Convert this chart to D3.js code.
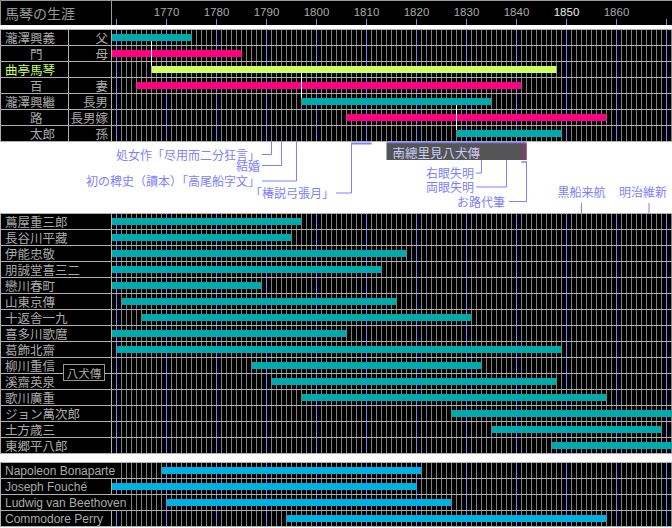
<!DOCTYPE html>
<html><head><meta charset="utf-8">
<script src="https://cdn.jsdelivr.net/npm/d3@7"></script>
<style>body{margin:0;background:#fff}svg{display:block}</style>
</head><body><svg id="c" width="672" height="528"></svg>
<script>
// ---------- data ----------
const chartTitle = "馬琴の生涯";
const yearTicks = [1770,1780,1790,1800,1810,1820,1830,1840,1850,1860];
const decadeLines = [1760,1770,1780,1790,1800,1810,1820,1830,1840,1850,1860,1870];

const familyNames = ["瀧澤興義","\u3000\u3000門","曲亭馬琴","\u3000\u3000百","瀧澤興繼","\u3000\u3000路","\u3000\u3000太郎"];
const familyRelations = ["父","母","","妻","長男","長男嫁","孫"];
const familyBirth = [1723,1737,1767,1764,1797,1806,1828];
const familyDeath = [1775,1785,1848,1841,1835,1858,1849];
const familyKind = ["male","female","self","female","male","female","male"];
const birthLinkParent = [0,2,4];
const birthLinkChild = [2,4,6];
const birthLinkYear = [1767,1797,1828];

const eventNames = ["処女作「尽用而二分狂言」","結婚","初の稗史（讀本）「高尾船字文」","「椿説弓張月」","右眼失明","両眼失明","お路代筆","黒船来航","明治維新"];
const eventYear = [1791,1793,1796,1807,1833,1838,1842,1853,1866.5];
const eventEndYear = [null,null,null,1811,null,null,1841,null,null];
const workName = "南總里見八犬傳";
const workStart = 1814, workEnd = 1842, proxyStart = 1841;

const peopleNames = ["蔦屋重三郎","長谷川平藏","伊能忠敬","朋誠堂喜三二","戀川春町","山東京傳","十返舎一九","喜多川歌麿","葛飾北齋","柳川重信","溪齋英泉","歌川廣重","ジョン萬次郎","土方歳三","東郷平八郎"];
const peopleBirth = [1750,1745,1745,1735,1744,1761,1765,1753,1760,1787,1791,1797,1827,1835,1847];
const peopleDeath = [1797,1795,1818,1813,1789,1816,1831,1806,1849,1833,1848,1858,1898,1869,1934];
const hakkenIllustrators = ["柳川重信","溪齋英泉"];
const hakkenLabel = "八犬傳";

const foreignNames = ["Napoleon Bonaparte","Joseph Fouché","Ludwig van Beethoven","Commodore Perry"];
const foreignBirth = [1769,1759,1770,1794];
const foreignDeath = [1821,1820,1827,1858];

// ---------- styles ----------
const C = {grid:"#808080", row:"#b0b0b0", blue:"#8080ff", label:"#aaaaaa",
  male:"#00aaaa", female:"#ff0080", self:"#ccff66", foreign:"#00b0e0"};
const JP = "'Noto Sans CJK JP','Noto Sans',sans-serif";

const svg = d3.select("#c");
const W = 672, LW = 112;
const x = d3.scaleLinear().domain([1760,1870]).range([116.5,666.5]);
const minorYears = d3.range(1760,1872);

svg.append("defs").append("clipPath").attr("id","plot")
  .append("rect").attr("x",LW).attr("y",0).attr("width",W-LW).attr("height",528);

// ---------- header ----------
const hdr = svg.append("g");
hdr.append("rect").attr("x",0).attr("y",0).attr("width",W).attr("height",25).attr("fill","#000");
hdr.append("path").attr("d",`M0.5,25V0.5H${W}M111.5,0V25`).attr("stroke","#999").attr("fill","none");
hdr.append("text").attr("x",5).attr("y",13).attr("dominant-baseline","central")
  .attr("font-family",JP).attr("font-size",14).attr("fill","#999").text(chartTitle);
hdr.selectAll("text.tk").data(yearTicks).join("text").attr("class","tk")
  .attr("x",d=>x(d)).attr("y",15.5).attr("text-anchor","middle")
  .attr("font-family","'Liberation Sans',Arial,sans-serif").attr("font-size",11.5)
  .attr("fill",d=>d===1850?"#eeeeee":C.label).text(d=>d);
hdr.selectAll("line.dt").data(decadeLines).join("line").attr("class","dt")
  .attr("x1",d=>x(d)).attr("x2",d=>x(d)).attr("y1",19).attr("y2",25)
  .attr("stroke",C.blue);

// ---------- section helper ----------
function section(y0, n) {
  const y = d3.scaleBand().domain(d3.range(n)).range([y0, y0 + 16*n]);
  const g = svg.append("g");
  g.append("rect").attr("x",0).attr("y",y0).attr("width",W).attr("height",16*n).attr("fill","#000");
  g.selectAll("line.mn").data(minorYears).join("line")
    .attr("x1",d=>x(d)).attr("x2",d=>x(d)).attr("y1",y0).attr("y2",y0+16*n)
    .attr("stroke",C.grid);
  g.selectAll("line.dc").data(decadeLines).join("line")
    .attr("x1",d=>x(d)).attr("x2",d=>x(d)).attr("y1",y0).attr("y2",y0+16*n)
    .attr("stroke",C.blue);
  g.append("rect").attr("x",0).attr("y",y0).attr("width",LW-1).attr("height",16*n).attr("fill","#000");
  g.selectAll("line.rw").data(d3.range(n+1)).join("line")
    .attr("x1",0).attr("x2",W).attr("y1",i=>y0+16*i+0.5).attr("y2",i=>y0+16*i+0.5)
    .attr("stroke",C.row);
  g.append("path").attr("d",`M0.5,${y0}V${y0+16*n}M111.5,${y0}V${y0+16*n}`).attr("stroke",C.row);
  return {y, g};
}
function bars(sec, starts, ends, colorOf) {
  sec.g.append("g").attr("clip-path","url(#plot)")
    .selectAll("rect").data(starts).join("rect")
    .attr("x",(d,i)=>x(starts[i])).attr("width",(d,i)=>x(ends[i])-x(starts[i]))
    .attr("y",(d,i)=>sec.y(i)+5).attr("height",7)
    .attr("fill",(d,i)=>colorOf(i));
}

// ---------- family ----------
const fam = section(29, familyNames.length);
fam.g.append("line").attr("x1",68.5).attr("x2",68.5).attr("y1",29).attr("y2",29+16*familyNames.length).attr("stroke",C.row);
bars(fam, familyBirth, familyDeath, i=>C[familyKind[i]]);
fam.g.selectAll("line.bl").data(birthLinkYear).join("line")
  .attr("x1",d=>x(d)).attr("x2",d=>x(d))
  .attr("y1",(d,i)=>fam.y(birthLinkParent[i])+12).attr("y2",(d,i)=>fam.y(birthLinkChild[i])+5)
  .attr("stroke","#fff");
fam.g.selectAll("text.nm").data(familyNames).join("text")
  .attr("x",5).attr("y",(d,i)=>fam.y(i)+8.5).attr("dominant-baseline","central")
  .attr("font-family",JP).attr("font-size",12.5)
  .attr("fill",(d,i)=>familyKind[i]==="self"?C.self:C.label)
  .style("white-space","pre").text(d=>d);
fam.g.selectAll("text.rl").data(familyRelations).join("text")
  .attr("x",108).attr("y",(d,i)=>fam.y(i)+8.5).attr("dominant-baseline","central")
  .attr("text-anchor","end").attr("font-family",JP).attr("font-size",12.5)
  .attr("fill",C.label).text(d=>d);

// ---------- events ----------
const ev = svg.append("g").attr("font-family",JP).attr("font-size",12).attr("fill",C.blue);
function path(d, w){ ev.append("path").attr("d",d).attr("stroke",C.blue).attr("stroke-width",w||1).attr("fill","none"); }
function label(t, xx, yy, anchor){ ev.append("text").attr("x",xx).attr("y",yy).attr("dominant-baseline","central").attr("text-anchor",anchor||"end").text(t); }
const leftEndX = 260;
[[0,154],[1,165],[2,180.5]].forEach(([i,ty])=>{
  label(eventNames[i], leftEndX, ty);
  path(`M${leftEndX+2},${ty+0.5}H${x(eventYear[i])}V141`);
});
label(eventNames[3], 334, 192.5);
path(`M336,193H${x(eventYear[3])}V144`);
path(`M${x(eventYear[3])-0.5},143.5H${x(eventEndYear[3])}`,2);
ev.append("rect").attr("x",x(workStart)).attr("y",143).attr("width",x(workEnd)-x(workStart)).attr("height",17).attr("fill","#555555");
ev.append("rect").attr("x",x(proxyStart)).attr("y",143).attr("width",x(workEnd)-x(proxyStart)).attr("height",17).attr("fill","#774466");
path(`M${x(workStart)},142.5H${x(workEnd)}`,1.5);
ev.append("text").attr("x",x(workStart)+6).attr("y",152.5).attr("dominant-baseline","central")
  .attr("font-size",12.5).attr("fill","#ccccff").text(workName);
label(eventNames[4], 474, 172.5);
path(`M476,173H${x(eventYear[4])}V160`);
label(eventNames[5], 474, 186.5);
path(`M476,187H${x(eventYear[5])}V160`);
label(eventNames[6], 505, 201.5);
path(`M509,201.5H${x(eventYear[6])}V162`);
path(`M${x(eventEndYear[6])},162H${x(eventYear[6])+0.5}`,1.5);
label(eventNames[7], x(eventYear[7]), 191.5, "middle");
path(`M${x(eventYear[7])},203V213`);
label(eventNames[8], 667, 191.5);
path(`M${x(eventYear[8])},203V213`);

// ---------- contemporaries ----------
const ppl = section(213, peopleNames.length);
bars(ppl, peopleBirth, peopleDeath, ()=>C.male);
ppl.g.selectAll("text.nm").data(peopleNames).join("text")
  .attr("x",5).attr("y",(d,i)=>ppl.y(i)+8.5).attr("dominant-baseline","central")
  .attr("font-family",JP).attr("font-size",12.5).attr("fill",C.label).text(d=>d);
const hi = hakkenIllustrators.map(n=>peopleNames.indexOf(n));
const hbY = ppl.y(hi[0])+8.5;
ppl.g.append("rect").attr("x",63.5).attr("y",hbY-1).attr("width",41).attr("height",16)
  .attr("fill","#000").attr("stroke","#999");
ppl.g.append("text").attr("x",84).attr("y",hbY+7).attr("dominant-baseline","central")
  .attr("text-anchor","middle").attr("font-family",JP).attr("font-size",11.5)
  .attr("fill",C.label).text(hakkenLabel);

// ---------- foreign ----------
const fr = section(462, foreignNames.length);
bars(fr, foreignBirth, foreignDeath, ()=>C.foreign);
const ft = fr.g.selectAll("g.ft").data(foreignNames).join("g");
ft.each(function(d,i){
  const gg = d3.select(this);
  const bg = gg.append("rect").attr("fill","#000");
  const t = gg.append("text").attr("x",5).attr("y",fr.y(i)+8.5).attr("dominant-baseline","central")
    .attr("font-family","'Liberation Sans',Arial,sans-serif").attr("font-size",12)
    .attr("fill",C.label).text(d);
  const bb = t.node().getBBox();
  if (bb.x+bb.width > 110) {
    bg.attr("x",100).attr("y",fr.y(i)+1).attr("width",bb.x+bb.width+2-100).attr("height",15);
  }
});
</script></body></html>
